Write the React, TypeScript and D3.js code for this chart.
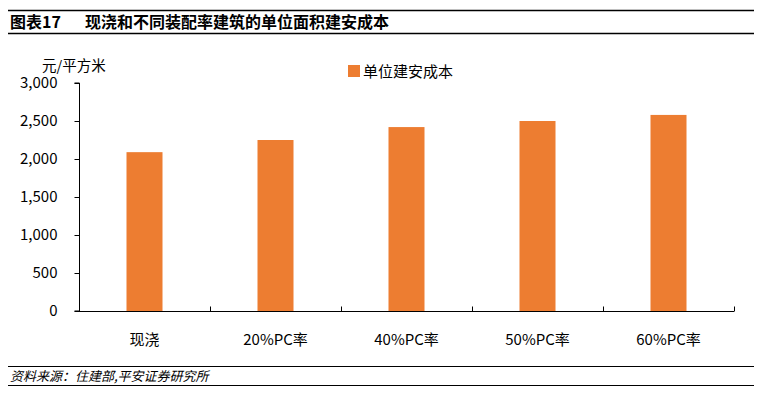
import React, { useEffect, useRef } from 'react';
import * as d3 from 'd3';

const categories = ['现浇', '20%PC率', '40%PC率', '50%PC率', '60%PC率'];
const costValues = [2090, 2250, 2420, 2500, 2580];
const yTicks = [0, 500, 1000, 1500, 2000, 2500, 3000];
const seriesName = '单位建安成本';

const FONT = '"Noto Sans CJK SC", "Noto Sans", sans-serif';

export default function App() {
  const ref = useRef<SVGSVGElement | null>(null);

  useEffect(() => {
    const svg = d3.select(ref.current);
    svg.selectAll('*').remove();

    const W = 775;
    const margin = { left: 79, right: 41, top: 83, bottom: 82 };
    const plotBottom = 311;

    // 标题与分隔线
    svg.append('line').attr('x1', 8).attr('x2', 754).attr('y1', 10.5).attr('y2', 10.5)
      .attr('stroke', '#000').attr('stroke-width', 1.5);
    svg.append('line').attr('x1', 8).attr('x2', 754).attr('y1', 33.5).attr('y2', 33.5)
      .attr('stroke', '#000').attr('stroke-width', 1.5);
    svg.append('text').attr('x', 10).attr('y', 28).attr('font-family', FONT)
      .attr('font-size', 16).attr('font-weight', 'bold').text('图表17');
    svg.append('text').attr('x', 85).attr('y', 28).attr('font-family', FONT)
      .attr('font-size', 16).attr('font-weight', 'bold').text('现浇和不同装配率建筑的单位面积建安成本');

    // 比例尺
    const x = d3.scaleBand().domain(categories).range([margin.left, W - margin.right]);
    const y = d3.scaleLinear().domain([0, 3000]).range([plotBottom, margin.top]);

    const g = svg.append('g');

    // 柱子
    const barW = 36;
    g.selectAll('rect.bar')
      .data(costValues)
      .enter()
      .append('rect')
      .attr('class', 'bar')
      .attr('x', (d, i) => (x(categories[i]) as number) + x.bandwidth() / 2 - barW / 2)
      .attr('y', d => y(d))
      .attr('width', barW)
      .attr('height', d => plotBottom - y(d))
      .attr('fill', '#ED7D31');

    // y轴
    const yAxis = d3.axisLeft(y).tickValues(yTicks).tickSize(5).tickFormat(d3.format(','));
    const ya = g.append('g').attr('transform', 'translate(' + (margin.left + 0.5) + ',0)').call(yAxis);
    ya.select('.domain').attr('stroke', '#000').attr('d', 'M-5,' + margin.top + 'H0V' + plotBottom + 'H-5');
    ya.selectAll('.tick line').attr('stroke', '#000');
    ya.selectAll('.tick text').attr('x', -22).attr('font-family', FONT).attr('font-size', 15).attr('fill', '#000');

    // x轴
    const xa = g.append('g').attr('transform', 'translate(0,' + (plotBottom + 0.5) + ')');
    xa.append('line').attr('x1', margin.left).attr('x2', W - margin.right)
      .attr('stroke', '#000');
    const bounds = categories.map(c => x(c) as number).concat([W - margin.right]);
    xa.selectAll('line.tk').data(bounds.slice(1)).enter().append('line').attr('class', 'tk')
      .attr('x1', d => Math.round(d) + 0.5).attr('x2', d => Math.round(d) + 0.5)
      .attr('y1', 0).attr('y2', -5).attr('stroke', '#000');
    xa.selectAll('text').data(categories).enter().append('text')
      .attr('x', d => (x(d) as number) + x.bandwidth() / 2)
      .attr('y', 33)
      .attr('text-anchor', 'middle')
      .attr('font-family', FONT).attr('font-size', 15)
      .text(d => d);

    // 单位
    svg.append('text').attr('x', 42).attr('y', 71).attr('font-family', FONT)
      .attr('font-size', 14.5).text('元/平方米');

    // 图例
    svg.append('rect').attr('x', 348).attr('y', 65).attr('width', 12).attr('height', 12).attr('fill', '#ED7D31');
    svg.append('text').attr('x', 363).attr('y', 77).attr('font-family', FONT)
      .attr('font-size', 15).text(seriesName);

    // 来源
    svg.append('line').attr('x1', 8).attr('x2', 754).attr('y1', 366.5).attr('y2', 366.5)
      .attr('stroke', '#000').attr('stroke-width', 1.2);
    svg.append('line').attr('x1', 8).attr('x2', 754).attr('y1', 385.5).attr('y2', 385.5)
      .attr('stroke', '#000').attr('stroke-width', 1.2);
    svg.append('text').attr('x', 10).attr('y', 381).attr('font-family', FONT)
      .attr('font-size', 13).attr('font-style', 'italic').text('资料来源：住建部,平安证券研究所');
  }, []);

  return (
    <svg ref={ref} width={775} height={393}
      style={{ position: 'absolute', left: 0, top: 0, background: '#fff' }} />
  );
}
